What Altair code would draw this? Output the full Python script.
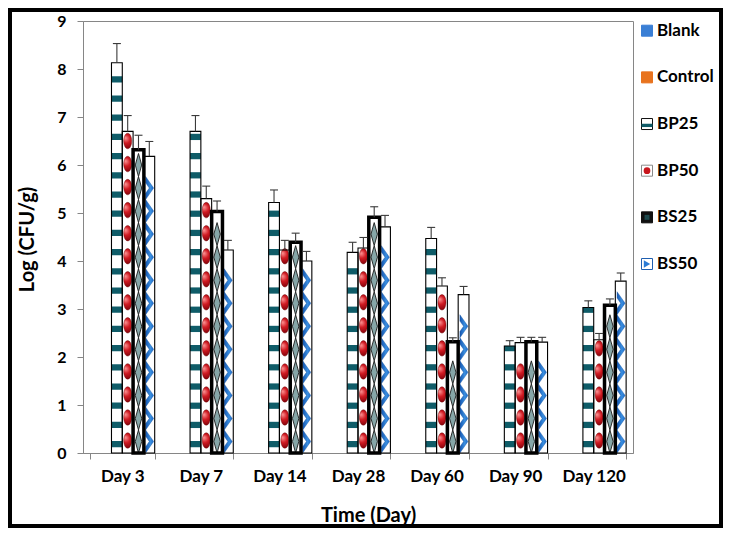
import altair as alt
import pandas as pd

days = ["Day 3", "Day 7", "Day 14", "Day 28", "Day 60", "Day 90", "Day 120"]
series_all = ["Blank", "Control", "BP25", "BP50", "BS25", "BS50"]

bp25 = [8.13, 6.70, 5.22, 4.18, 4.47, 2.23, 3.03]
bp25_err = [0.40, 0.33, 0.26, 0.21, 0.23, 0.11, 0.14]
bp50 = [6.70, 5.30, 4.23, 4.27, 3.48, 2.30, 2.36]
bp50_err = [0.33, 0.26, 0.20, 0.22, 0.17, 0.11, 0.13]
bs25 = [6.32, 5.03, 4.39, 4.91, 2.32, 2.32, 3.08]
bs25_err = [0.30, 0.22, 0.19, 0.22, 0.08, 0.09, 0.13]
bs50 = [6.18, 4.23, 4.00, 4.71, 3.30, 2.31, 3.58]
bs50_err = [0.31, 0.20, 0.20, 0.24, 0.17, 0.10, 0.17]

rows = []
for name, vals, errs in [("BP25", bp25, bp25_err), ("BP50", bp50, bp50_err),
                         ("BS25", bs25, bs25_err), ("BS50", bs50, bs50_err)]:
    for d, v, e in zip(days, vals, errs):
        rows.append({"day": d, "series": name, "value": v, "err": e})
df = pd.DataFrame(rows)

# legend swatches
STRIPE = "M-1,-0.05L1,-0.05L1,0.55L-1,0.55Z"
INNER = "M-0.45,-0.45L0.45,-0.45L0.45,0.45L-0.45,0.45Z"
legend_df = pd.DataFrame({
    "label": series_all,
    "fill": ["#3A7FD5", "#E8731E", "#FFFFFF", "#FFFFFF", "#111111", "#FFFFFF"],
    "stroke": ["#3A7FD5", "#E8731E", "#111111", "#8A8A8A", "#111111", "#1F5FB0"],
    "glyph": ["", "", STRIPE, "circle", INNER, "triangle-right"],
    "gcolor": ["#FFFFFF", "#FFFFFF", "#0F5C68", "#C8161D", "#1E4A4E", "#2A7BD5"],
    "gsize": [0, 0, 121, 45, 121, 55],
})

FONT = "Lato"
AX = "#868686"
W, H = 550, 432

xaxis = alt.Axis(title="Time (Day)", labelAngle=0, tickBand="extent", tickSize=6,
                 labelPadding=9, domainColor=AX, tickColor=AX, labelFont=FONT,
                 labelFontWeight="bold", labelFontSize=17, labelColor="black",
                 titleFont=FONT, titleFontWeight="bold", titleFontSize=20,
                 titleColor="black", titleX=285, titleY=62, titleBaseline="middle")
yaxis = alt.Axis(title="Log (CFU/g)", values=list(range(10)), format="d", grid=False,
                 tickSize=6, labelPadding=11, domainColor=AX, tickColor=AX,
                 labelFont=FONT, labelFontWeight="bold", labelFontSize=16,
                 labelColor="black", labelFlush=False, titleFont=FONT,
                 titleFontWeight="bold", titleFontSize=20, titleColor="black",
                 titleX=-56, titleY=218, titleAngle=270, titleAlign="center",
                 titleBaseline="middle")

xs = alt.Scale(domain=days, paddingInner=0.175, paddingOuter=0.0875)
xo = alt.Scale(domain=series_all, paddingInner=0, paddingOuter=0)
ys = alt.Scale(domain=[0, 9], nice=False, zero=True)


def X():
    return alt.X("day:N", sort=days, scale=xs, axis=xaxis)


def XO():
    return alt.XOffset("series:N", sort=series_all, scale=xo)


def Y(field):
    return alt.Y(field, type="quantitative", scale=ys, axis=yaxis)


base = alt.Chart().mark_bar(fill="white", strokeWidth=0).encode(
    x=X(), xOffset=XO(), y=Y("value"))

stripes = alt.Chart().transform_filter(alt.datum.series == "BP25").transform_calculate(
    s="sequence(0.12, datum.value - 0.08, 0.4)").transform_flatten(["s"]).transform_calculate(
    s2="min(datum.s + 0.13, datum.value)").mark_bar(fill="#0F5C68", strokeWidth=0).encode(
    x=X(), xOffset=XO(), y=Y("s"), y2="s2:Q")

ELLIPSE = "M0,-1A0.52,1 0 1,1 0,1A0.52,1 0 1,1 0,-1Z"
dots = alt.Chart().transform_filter(alt.datum.series == "BP50").transform_calculate(
    s="sequence(0.26, datum.value - 0.12, 0.48)").transform_flatten(["s"]).mark_point(
    shape=ELLIPSE, size=240, filled=True, opacity=1,
    fill={"gradient": "radial", "x1": 0.35, "y1": 0.3, "r1": 0, "x2": 0.45, "y2": 0.45, "r2": 0.6,
          "stops": [{"offset": 0, "color": "#FF9A9A"}, {"offset": 0.45, "color": "#D01A22"},
                    {"offset": 1, "color": "#7A0008"}]},
    stroke="#6B0000", strokeWidth=0.4).encode(x=X(), xOffset=XO(), y=Y("s"))

DIAMOND = "M0,-1L0.28,0L0,1L-0.28,0Z"
diamonds = alt.Chart().transform_filter(alt.datum.series == "BS25").transform_calculate(
    s="sequence(0.24, datum.value - 0.2, 0.48)").transform_flatten(["s"]).mark_point(
    shape=DIAMOND, size=530, filled=True, opacity=1, fill="#86A6A8",
    stroke="#1A1A1A", strokeWidth=0.9).encode(x=X(), xOffset=XO(), y=Y("s"))

CHEVRON = "M-0.32,-1L0.38,0L-0.32,1L-0.32,0.45L0.0,0L-0.32,-0.45Z"
chevrons = alt.Chart().transform_filter(alt.datum.series == "BS50").transform_calculate(
    s="sequence(0.24, datum.value - 0.2, 0.48)").transform_flatten(["s"]).mark_point(
    shape=CHEVRON, size=530, filled=True, opacity=1,
    fill={"gradient": "linear", "x1": 0, "y1": 0, "x2": 1, "y2": 0,
          "stops": [{"offset": 0, "color": "#1556B0"}, {"offset": 0.6, "color": "#3A8FE0"},
                    {"offset": 1, "color": "#1E6AC8"}]},
    stroke="#1450A0", strokeWidth=0.4, xOffset=1.5).encode(x=X(), xOffset=XO(), y=Y("s"))

outlines = alt.Chart().transform_calculate(
    sw="datum.series == 'BS25' ? 3.5 : 1.1").mark_bar(
    fillOpacity=0, stroke="black").encode(
    x=X(), xOffset=XO(), y=Y("value"),
    strokeWidth=alt.StrokeWidth("sw:Q", scale=None))

err_rule = alt.Chart().transform_calculate(top="datum.value + datum.err").mark_rule(
    color="#3A3A3A", strokeWidth=1.1).encode(x=X(), xOffset=XO(), y=Y("value"), y2="top:Q")

err_cap = alt.Chart().transform_calculate(top="datum.value + datum.err").mark_tick(
    color="#3A3A3A", thickness=1.1, size=8, opacity=1).encode(x=X(), xOffset=XO(), y=Y("top"))

main = alt.layer(base, stripes, dots, diamonds, chevrons, outlines, err_rule, err_cap, data=df)

ly = alt.Y("label:N", sort=series_all, axis=None,
           scale=alt.Scale(type="point", domain=series_all, range=[9.7, 243], padding=0))
leg_sq = alt.Chart().mark_point(shape="square", size=121, filled=True, opacity=1,
                                strokeWidth=1).encode(
    x=alt.value(564), y=ly, fill=alt.Fill("fill:N", scale=None),
    stroke=alt.Stroke("stroke:N", scale=None))
leg_gl = alt.Chart().transform_filter("datum.glyph != ''").mark_point(
    filled=True, opacity=1).encode(
    x=alt.value(564), y=ly, shape=alt.Shape("glyph:N", scale=None),
    fill=alt.Fill("gcolor:N", scale=None), size=alt.Size("gsize:Q", scale=None))
leg_tx = alt.Chart().mark_text(align="left", baseline="middle", font=FONT,
                               fontWeight="bold", fontSize=17, color="black").encode(
    x=alt.value(574), y=ly, text="label:N")
legend = alt.layer(leg_sq, leg_gl, leg_tx, data=legend_df)

frame = alt.Chart(alt.Data(values=[{"f": 1}])).mark_rect(
    fillOpacity=0, stroke="black", strokeWidth=4).encode(
    x=alt.value(-73), x2=alt.value(638), y=alt.value(-11), y2=alt.value(505))

chart = alt.layer(main, legend, frame).resolve_scale(y="independent").properties(
    width=W, height=H,
    autosize=alt.AutoSizeParams(type="none"),
    padding={"left": 75, "top": 13, "right": 90, "bottom": 75},
).configure_view(stroke=AX, strokeWidth=1)

chart.save("out.html", embed_options={"renderer": "svg", "actions": False})
